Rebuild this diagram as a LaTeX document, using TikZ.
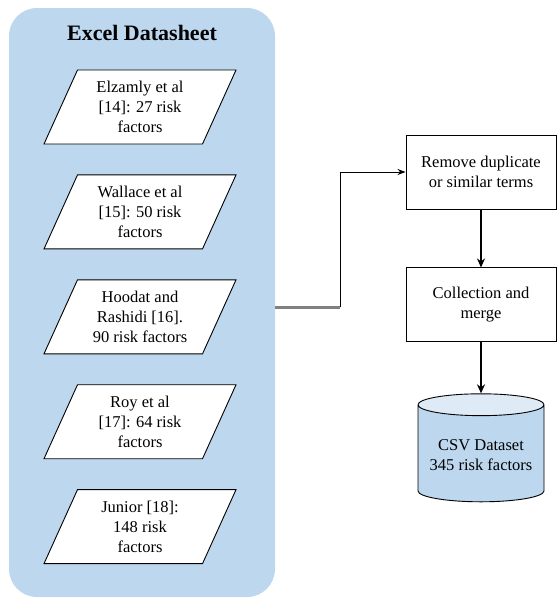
\documentclass[tikz,border=0pt]{standalone}
\usepackage{fontspec}
\setmainfont{Liberation Serif}
\usetikzlibrary{shapes.geometric,arrows.meta,positioning}
\definecolor{sheetblue}{HTML}{BDD7EE}
\definecolor{toplight}{HTML}{DEEBF7}
\tikzset{
    panel/.style={
        rectangle, rounded corners=28pt, fill=sheetblue,
        minimum width=266pt, minimum height=589pt
    },
    source/.style={
        trapezium, trapezium left angle=58, trapezium right angle=122,
        trapezium stretches body, draw=black, fill=white, line width=0.9pt,
        minimum width=192pt, minimum height=74pt, inner sep=1pt,
        align=center, font=\fontsize{16.5}{20}\selectfont
    },
    process/.style={
        rectangle, draw=black, fill=white, line width=0.9pt,
        minimum width=150pt, minimum height=74pt,
        align=center, font=\fontsize{16.5}{20}\selectfont
    },
    dataset/.style={
        cylinder, shape border rotate=90, aspect=0.2, draw=black, line width=0.9pt,
        cylinder uses custom fill, cylinder body fill=sheetblue, cylinder end fill=toplight,
        minimum width=126pt, minimum height=108pt,
        align=center, font=\fontsize{16.5}{20}\selectfont
    },
    arrow/.style={-{Stealth[length=9pt,width=8pt]},line width=2.4pt},
    feed/.style={draw=black!50,line width=3pt}
}

\begin{document}
\begin{tikzpicture}[x=1pt,y=-1pt,node distance=30pt]
\useasboundingbox (0,0) rectangle (557,603);

% Excel datasheet panel
\node[panel] (sheet) at (142,302.5) {};
\node[font=\fontsize{22}{26}\selectfont\bfseries] (title) at (142,33) {Excel Datasheet};

\node[source] (elzamly) at (140,107) {Elzamly et al\\{[14]}: 27 risk\\factors};
\node[source, below=of elzamly] (wallace) {Wallace et al\\{[15]}: 50 risk\\factors};
\node[source, below=of wallace]  (hoodat)  {Hoodat and\\Rashidi [16].\\90 risk factors};
\node[source, below=of hoodat]   (roy)     {Roy et al\\{[17]}: 64 risk\\factors};
\node[source, below=of roy]      (junior)  {Junior [18]:\\148 risk\\factors};

% Processing steps
\node[process] (remove) at (481,172) {Remove duplicate\\or similar terms};
\node[process, below=58pt of remove] (merge) {Collection and\\merge};
\node[dataset, below=51pt of merge] (csv) {CSV Dataset\\345 risk factors};

% Connectors
\coordinate (bend) at (340,307);
\draw[feed] (sheet.east |- bend) -- (bend);
\draw[line width=1pt,-{Stealth[length=8pt,width=6pt]}] (bend) |- (remove.west);
\draw[arrow] (remove) -- (merge);
\draw[arrow] (merge) -- (csv);

\end{tikzpicture}
\end{document}
